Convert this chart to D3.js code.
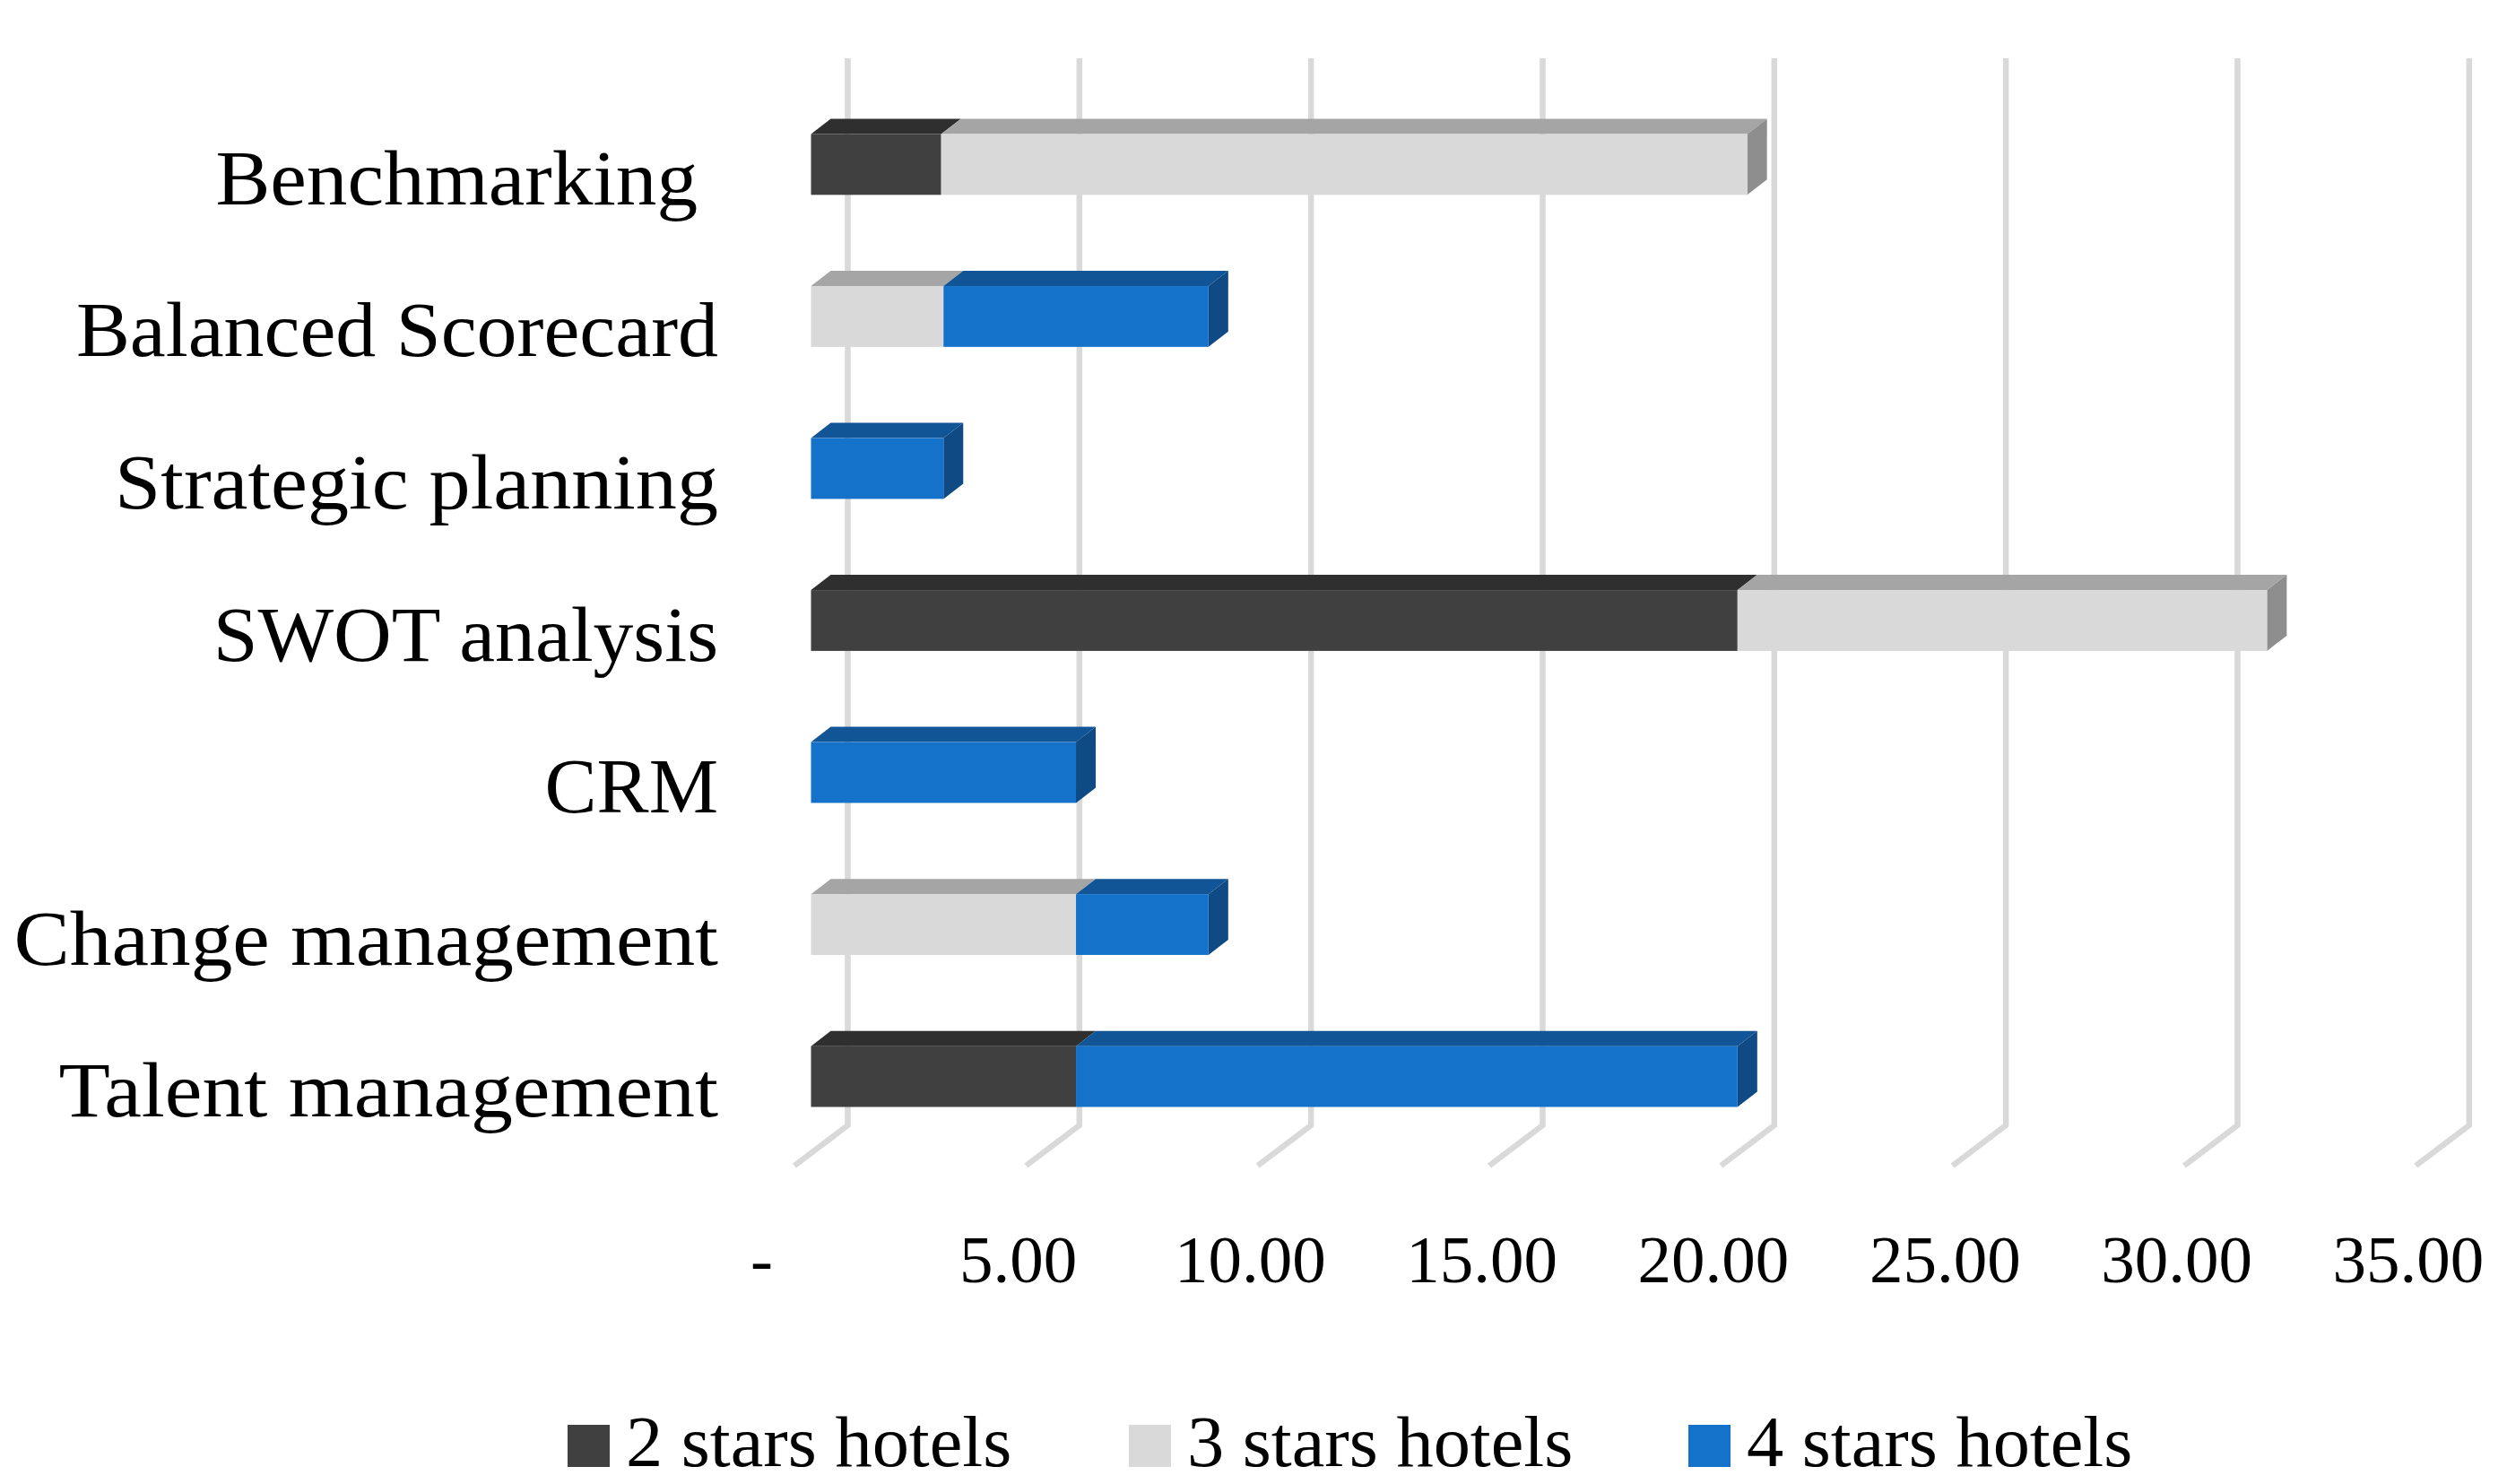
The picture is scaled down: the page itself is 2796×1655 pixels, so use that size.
<!DOCTYPE html>
<html><head><meta charset="utf-8">
<script src="https://cdn.jsdelivr.net/npm/d3@7"></script>
<style>
html,body{margin:0;padding:0;background:#fff}
text{font-family:"Liberation Serif",serif;fill:#000;white-space:pre}
</style></head><body>
<svg id="c" width="2796" height="1655" xmlns="http://www.w3.org/2000/svg"></svg>
<script>
const categories=["Benchmarking ","Balanced Scorecard","Strategic planning","SWOT analysis","CRM","Change management","Talent management"];
const twoStars=[2.81,0,0,20.0,0,0,5.72];
const threeStars=[17.4,2.86,0,11.43,0,5.72,0];
const fourStars=[0,5.72,2.86,0,5.72,2.86,14.28];
const seriesNames=["2 stars hotels","3 stars hotels","4 stars hotels"];
const seriesValues=[twoStars,threeStars,fourStars];
const tickValues=[0,5,10,15,20,25,30,35];
const front=["#404040","#d9d9d9","#1572cb"];
const topFace=["#2f2f2f","#a5a5a5","#125596"];
const sideFace=["#2a2a2a","#8e8e8e","#0f4a85"];
// horizontal widening of each category label (the reference face is wider than the installed serif)
const labelStretch=[1.05,1.033,1.059,1.03,1.0,1.073,1.078];

const svg=d3.select("#c");
const x=d3.scaleLinear().domain([0,35]).range([904.5,2712.8]);
const y=d3.scaleBand().domain(categories).range([98.65,1285.35]).paddingInner(0.6).paddingOuter(0.3);
const depthX=22,depthY=17;
const wallX=41,wallTop=65,wallBottom=1255,floorDx=59.5,floorDy=45;

function widen(sel,factor){
  sel.attr("lengthAdjust","spacingAndGlyphs")
     .attr("textLength",function(d,i){return this.getComputedTextLength()*(typeof factor==="function"?factor(d,i):factor);});
}

// gridlines: wall + floor
svg.append("g").selectAll("path").data(tickValues).join("path")
  .attr("d",v=>{const g=x(v)+wallX;return d3.line()([[g,wallTop],[g,wallBottom],[g-floorDx,wallBottom+floorDy]]);})
  .attr("fill","none").attr("stroke","#d9d9d9").attr("stroke-width",6.5).attr("stroke-linejoin","miter");

// stacked 3D bars
const rows=categories.map((c,i)=>({cat:c,v0:twoStars[i],v1:threeStars[i],v2:fourStars[i]}));
const stack=d3.stack().keys(["v0","v1","v2"])(rows);
const barG=svg.append("g");
stack.forEach((layer,s)=>{
  const g=barG.append("g");
  const live=layer.map((d,i)=>({a:d[0],b:d[1],cat:categories[i],last:d[1]===d3.sum(seriesValues,sv=>sv[i])})).filter(d=>d.b>d.a);
  g.selectAll("path.top").data(live).join("path").attr("class","top")
    .attr("d",d=>{const t=y(d.cat);return d3.line()([[x(d.a),t],[x(d.a)+depthX,t-depthY],[x(d.b)+depthX,t-depthY],[x(d.b),t]])+"Z";})
    .attr("fill",topFace[s]);
  g.selectAll("path.side").data(live.filter(d=>d.last)).join("path").attr("class","side")
    .attr("d",d=>{const t=y(d.cat),h=y.bandwidth();return d3.line()([[x(d.b),t],[x(d.b)+depthX,t-depthY],[x(d.b)+depthX,t+h-depthY],[x(d.b),t+h]])+"Z";})
    .attr("fill",sideFace[s]);
  g.selectAll("rect").data(live).join("rect")
    .attr("x",d=>x(d.a)).attr("y",d=>y(d.cat))
    .attr("width",d=>x(d.b)-x(d.a)).attr("height",y.bandwidth()).attr("fill",front[s]);
});

// category axis
const yAxis=svg.append("g").attr("transform","translate(801,0)")
  .call(d3.axisLeft(y).tickSize(0).tickPadding(0));
yAxis.select(".domain").remove();
yAxis.selectAll("text").attr("font-size",87).attr("dy",null).attr("y",44.5)
  .style("font-family",'"Liberation Serif",serif').attr("fill","#000")
  .call(widen,(d,i)=>labelStretch[i]);

// value axis
const xAxis=svg.append("g").attr("transform","translate(0,1430)")
  .call(d3.axisBottom(x).tickValues(tickValues).tickSize(0).tickFormat(v=>v===0?"-":d3.format(".2f")(v)));
xAxis.select(".domain").remove();
xAxis.selectAll("text").attr("font-size",75).attr("dy",null).attr("y",0).attr("text-anchor","end")
  .attr("x",v=>v===0?-43:(v<10?38:57)).style("font-family",'"Liberation Serif",serif').attr("fill","#000");

// legend
const legendX=d3.scaleOrdinal().domain(seriesNames).range([633,1259,1883]);
const lg=svg.append("g").selectAll("g").data(seriesNames).join("g")
  .attr("transform",d=>`translate(${legendX(d)},1589)`);
lg.append("rect").attr("width",47).attr("height",47).attr("fill",(d,i)=>front[i]);
lg.append("text").attr("x",65).attr("y",46).attr("font-size",80).text(d=>d).call(widen,1.03);
</script>
</body></html>
